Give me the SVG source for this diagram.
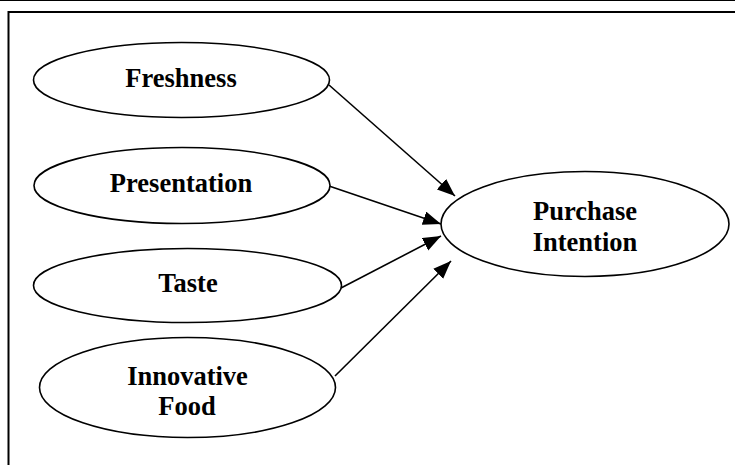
<svg xmlns="http://www.w3.org/2000/svg" width="735" height="465" viewBox="0 0 735 465">
  <style>
    .node ellipse { fill: #ffffff; stroke: #000000; stroke-width: 1.6; }
    .node text { font-family: "Liberation Serif", "Times New Roman", serif; font-weight: bold; font-size: 26.5px; fill: #000000; text-anchor: middle; }
    .frame { stroke: #000000; fill: none; }
    #connectors line { stroke: #000000; stroke-width: 1.6; marker-end: url(#arrow); }
  </style>
  <defs>
    <marker id="arrow" markerUnits="userSpaceOnUse" markerWidth="19" markerHeight="15" refX="18" refY="7" orient="auto">
      <path d="M0,0 L18,7 L0,14 Z" fill="#000000"/>
    </marker>
  </defs>

  <rect width="735" height="465" fill="#ffffff"/>

  <!-- page frame -->
  <line class="frame" x1="0" y1="0.5" x2="735" y2="0.5" stroke-width="1.2"/>
  <path class="frame" d="M8.5,465 V12 H735" stroke-width="2"/>

  <!-- connectors -->
  <g id="connectors">
    <line x1="329" y1="85" x2="455" y2="196"/>
    <line x1="329" y1="186" x2="441" y2="224"/>
    <line x1="341" y1="288" x2="441" y2="236"/>
    <line x1="335" y1="376" x2="451" y2="261"/>
  </g>

  <g id="freshness" class="node">
    <ellipse cx="181.5" cy="80" rx="148" ry="37.5"/>
    <text x="181" y="86.5">Freshness</text>
  </g>

  <g id="presentation" class="node">
    <ellipse cx="182" cy="185.5" rx="148" ry="38"/>
    <text x="181" y="192">Presentation</text>
  </g>

  <g id="taste" class="node">
    <ellipse cx="187.5" cy="285.5" rx="154" ry="37"/>
    <text x="188" y="292">Taste</text>
  </g>

  <g id="innovative-food" class="node">
    <ellipse cx="187.5" cy="387.5" rx="148" ry="50"/>
    <text x="187.5" y="385">Innovative</text>
    <text x="187" y="415">Food</text>
  </g>

  <g id="purchase-intention" class="node">
    <ellipse cx="585" cy="224" rx="144" ry="52.5"/>
    <text x="585" y="220">Purchase</text>
    <text x="585" y="250.5">Intention</text>
  </g>
</svg>
